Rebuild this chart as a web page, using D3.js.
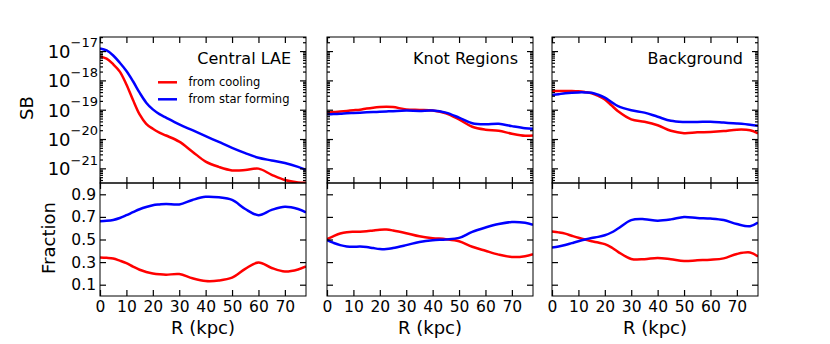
<!DOCTYPE html>
<html>
<head>
<meta charset="utf-8">
<script src="https://cdn.jsdelivr.net/npm/d3@7"></script>
<style>
  body { margin: 0; background: #fff; }
  text { font-family: "DejaVu Sans", sans-serif; fill: #000; }
</style>
</head>
<body>
<div id="chart"></div>
<script>
// radius grid (kpc)
let R = [0, 2.5, 5, 7.5, 10, 12.5, 15, 17.5, 20, 22.5, 25, 30, 35, 40, 45, 50, 55, 60, 65, 70, 75, 78];

// log10(SB)
let sbCoolCentral = [-17.18, -17.26, -17.45, -17.7, -18.14, -18.67, -19.16, -19.48, -19.65, -19.78, -19.88, -20.09, -20.43, -20.77, -20.95, -21.07, -21.06, -21.01, -21.22, -21.4, -21.48, -21.49];
let sbStarCentral = [-16.91, -16.98, -17.15, -17.4, -17.68, -18.03, -18.42, -18.76, -18.99, -19.15, -19.27, -19.5, -19.7, -19.9, -20.1, -20.3, -20.48, -20.64, -20.73, -20.82, -20.95, -21.05];
let sbCoolKnot = [-19.11, -19.08, -19.06, -19.04, -19.02, -19.0, -18.96, -18.93, -18.91, -18.9, -18.91, -18.99, -19.01, -19.03, -19.12, -19.33, -19.58, -19.68, -19.72, -19.82, -19.89, -19.88];
let sbStarKnot = [-19.15, -19.15, -19.14, -19.12, -19.11, -19.1, -19.09, -19.08, -19.07, -19.06, -19.05, -19.03, -19.04, -19.03, -19.1, -19.27, -19.46, -19.5, -19.48, -19.56, -19.63, -19.65];
let sbCoolBg = [-18.36, -18.36, -18.36, -18.36, -18.37, -18.4, -18.44, -18.53, -18.65, -18.85, -19.05, -19.33, -19.41, -19.53, -19.72, -19.8, -19.77, -19.76, -19.73, -19.68, -19.7, -19.81];
let sbStarBg = [-18.5, -18.47, -18.44, -18.42, -18.41, -18.41, -18.42, -18.49, -18.59, -18.74, -18.88, -19.02, -19.1, -19.24, -19.38, -19.42, -19.42, -19.41, -19.44, -19.47, -19.51, -19.55];

// fractions
let frCoolCentral = [0.341, 0.338, 0.332, 0.313, 0.291, 0.26, 0.232, 0.213, 0.2, 0.192, 0.188, 0.194, 0.157, 0.133, 0.137, 0.162, 0.24, 0.297, 0.248, 0.217, 0.235, 0.262];
let frStarCentral = [0.662, 0.665, 0.673, 0.69, 0.715, 0.742, 0.768, 0.788, 0.803, 0.81, 0.815, 0.81, 0.85, 0.878, 0.873, 0.85, 0.77, 0.715, 0.762, 0.79, 0.77, 0.74];
let frCoolKnot = [0.503, 0.53, 0.553, 0.565, 0.568, 0.568, 0.572, 0.58, 0.587, 0.588, 0.58, 0.556, 0.528, 0.512, 0.503, 0.485, 0.436, 0.4, 0.366, 0.345, 0.352, 0.37];
let frStarKnot = [0.494, 0.47, 0.45, 0.438, 0.435, 0.437, 0.433, 0.424, 0.416, 0.415, 0.424, 0.45, 0.478, 0.494, 0.5, 0.514, 0.568, 0.606, 0.637, 0.655, 0.648, 0.63];
let frCoolBg = [0.571, 0.563, 0.552, 0.533, 0.515, 0.5, 0.485, 0.473, 0.459, 0.43, 0.391, 0.328, 0.326, 0.337, 0.325, 0.309, 0.316, 0.321, 0.333, 0.372, 0.385, 0.35];
let frStarBg = [0.429, 0.438, 0.451, 0.468, 0.485, 0.5, 0.513, 0.523, 0.538, 0.562, 0.597, 0.672, 0.68, 0.667, 0.678, 0.7, 0.69, 0.685, 0.672, 0.637, 0.618, 0.65];

let panelTitles = ["Central LAE", "Knot Regions", "Background"];
let legendLabels = ["from cooling", "from star forming"];
let xTicks = [0, 10, 20, 30, 40, 50, 60, 70];
let sbExponents = [-17, -18, -19, -20, -21];
let frTicks = [0.1, 0.3, 0.5, 0.7, 0.9];

let sbCool = [sbCoolCentral, sbCoolKnot, sbCoolBg];
let sbStar = [sbStarCentral, sbStarKnot, sbStarBg];
let frCool = [frCoolCentral, frCoolKnot, frCoolBg];
let frStar = [frStarCentral, frStarKnot, frStarBg];

let svgWidth = 830, svgHeight = 344;
let panelLeft = [100, 327, 552];
let panelW = 206;
let topY = 37, midY = 183, botY = 296;
let colors = ["#ff0000", "#0000ff"];

let svg = d3.select("#chart").append("svg")
  .attr("width", svgWidth)
  .attr("height", svgHeight);

let x = d3.scaleLinear().domain([0, 78]).range([0, panelW]);
let ySB = d3.scaleLog().domain([Math.pow(10, -21.5), Math.pow(10, -16.52)]).range([midY - topY, 0]);
let yFr = d3.scaleLinear().domain([0, 1]).range([botY - midY, 0]);

// minor log ticks
let sbMinor = [];
for (let e = -22; e <= -17; e++) {
  for (let m = 2; m <= 9; m++) {
    let v = m * Math.pow(10, e);
    if (v > ySB.domain()[0] && v < ySB.domain()[1]) sbMinor.push(v);
  }
}
let sbMajor = sbExponents.map(e => Math.pow(10, e));

function styleAxis(g) {
  g.select(".domain").remove();
  g.selectAll(".tick line").attr("stroke", "#000").attr("stroke-width", 1.2);
  g.selectAll(".tick text").attr("font-family", "DejaVu Sans").attr("fill", "#000");
}

let defs = svg.append("defs");

panelTitles.forEach(function(title, i) {
  let h1 = midY - topY, h2 = botY - midY;

  // ---- top panel: surface brightness
  let gTop = svg.append("g").attr("transform", "translate(" + panelLeft[i] + "," + topY + ")");
  defs.append("clipPath").attr("id", "clipTop" + i)
    .append("rect").attr("width", panelW).attr("height", h1);

  let sbLine = d3.line()
    .x((d, k) => x(R[k]))
    .y(d => ySB(Math.pow(10, d)))
    .curve(d3.curveCatmullRom.alpha(0.5));

  [sbCool[i], sbStar[i]].forEach(function(series, s) {
    gTop.append("path")
      .datum(series)
      .attr("clip-path", "url(#clipTop" + i + ")")
      .attr("fill", "none")
      .attr("stroke", colors[s])
      .attr("stroke-width", 2.5)
      .attr("d", sbLine);
  });

  gTop.append("g").call(d3.axisLeft(ySB).tickValues(sbMinor).tickSize(-3).tickSizeOuter(0).tickFormat("")).call(styleAxis);
  gTop.append("g").attr("transform", "translate(" + panelW + ",0)")
    .call(d3.axisRight(ySB).tickValues(sbMinor).tickSize(-3).tickSizeOuter(0).tickFormat("")).call(styleAxis);
  gTop.append("g").attr("transform", "translate(" + panelW + ",0)")
    .call(d3.axisRight(ySB).tickValues(sbMajor).tickSize(-6).tickSizeOuter(0).tickFormat("")).call(styleAxis);
  gTop.append("g").call(d3.axisTop(x).tickValues(xTicks).tickSize(-6).tickSizeOuter(0).tickFormat("")).call(styleAxis);
  gTop.append("g").attr("transform", "translate(0," + h1 + ")")
    .call(d3.axisBottom(x).tickValues(xTicks).tickSize(-6).tickSizeOuter(0).tickFormat("")).call(styleAxis);

  let left = gTop.append("g")
    .call(d3.axisLeft(ySB).tickValues(sbMajor).tickSize(-6).tickSizeOuter(0).tickPadding(2).tickFormat(() => "10"))
    .call(styleAxis);
  if (i === 0) {
    left.selectAll(".tick text")
      .attr("font-size", 18)
      .attr("dy", null)
      .attr("y", 6.3)
      .append("tspan")
      .attr("font-size", 13)
      .attr("dy", -10.6)
      .text(d => "\u2212" + Math.round(-Math.log10(d)));
  } else {
    left.selectAll(".tick text").remove();
  }

  gTop.append("rect")
    .attr("width", panelW).attr("height", h1)
    .attr("fill", "none").attr("stroke", "#000").attr("stroke-width", 1);

  gTop.append("text")
    .attr("x", panelW - 15)
    .attr("y", 27)
    .attr("text-anchor", "end")
    .attr("font-size", 16)
    .text(title);

  // ---- bottom panel: fraction
  let gBot = svg.append("g").attr("transform", "translate(" + panelLeft[i] + "," + midY + ")");
  defs.append("clipPath").attr("id", "clipBot" + i)
    .append("rect").attr("width", panelW).attr("height", h2);

  let frLine = d3.line()
    .x((d, k) => x(R[k]))
    .y(d => yFr(d))
    .curve(d3.curveCatmullRom.alpha(0.5));

  [frCool[i], frStar[i]].forEach(function(series, s) {
    gBot.append("path")
      .datum(series)
      .attr("clip-path", "url(#clipBot" + i + ")")
      .attr("fill", "none")
      .attr("stroke", colors[s])
      .attr("stroke-width", 2.5)
      .attr("d", frLine);
  });

  gBot.append("g").call(d3.axisTop(x).tickValues(xTicks).tickSize(-6).tickSizeOuter(0).tickFormat("")).call(styleAxis);
  gBot.append("g").attr("transform", "translate(" + panelW + ",0)")
    .call(d3.axisRight(yFr).tickValues(frTicks).tickSize(-6).tickSizeOuter(0).tickFormat("")).call(styleAxis);

  let fl = gBot.append("g")
    .call(d3.axisLeft(yFr).tickValues(frTicks).tickSize(-6).tickSizeOuter(0).tickPadding(4).tickFormat(d3.format(".1f")))
    .call(styleAxis);
  if (i === 0) fl.selectAll(".tick text").attr("font-size", 15.5);
  else fl.selectAll(".tick text").remove();

  gBot.append("g").attr("transform", "translate(0," + h2 + ")")
    .call(d3.axisBottom(x).tickValues(xTicks).tickSize(-6).tickSizeOuter(0).tickPadding(5).tickFormat(d3.format("d")))
    .call(styleAxis)
    .call(g => g.selectAll(".tick text").attr("font-size", 15.5));

  gBot.append("rect")
    .attr("width", panelW).attr("height", h2)
    .attr("fill", "none").attr("stroke", "#000").attr("stroke-width", 1);

  gBot.append("text")
    .attr("x", panelW / 2)
    .attr("y", 334 - midY)
    .attr("text-anchor", "middle")
    .attr("font-size", 18)
    .text("R (kpc)");
});

// legend in the first panel
let legend = svg.append("g").attr("transform", "translate(" + panelLeft[0] + "," + topY + ")");
legendLabels.forEach(function(label, s) {
  let ly = 45.3 + s * 17;
  legend.append("line")
    .attr("x1", 58).attr("x2", 77)
    .attr("y1", ly).attr("y2", ly)
    .attr("stroke", colors[s]).attr("stroke-width", 2.5);
  legend.append("text")
    .attr("x", 88.5)
    .attr("y", ly + 4)
    .attr("font-size", 11.5)
    .attr("fill", "#222")
    .text(label);
});

// y axis labels
svg.append("text")
  .attr("transform", "translate(33,108) rotate(-90)")
  .attr("text-anchor", "middle")
  .attr("font-size", 18)
  .text("SB");

svg.append("text")
  .attr("transform", "translate(55,238) rotate(-90)")
  .attr("text-anchor", "middle")
  .attr("font-size", 18)
  .text("Fraction");
</script>
</body>
</html>
